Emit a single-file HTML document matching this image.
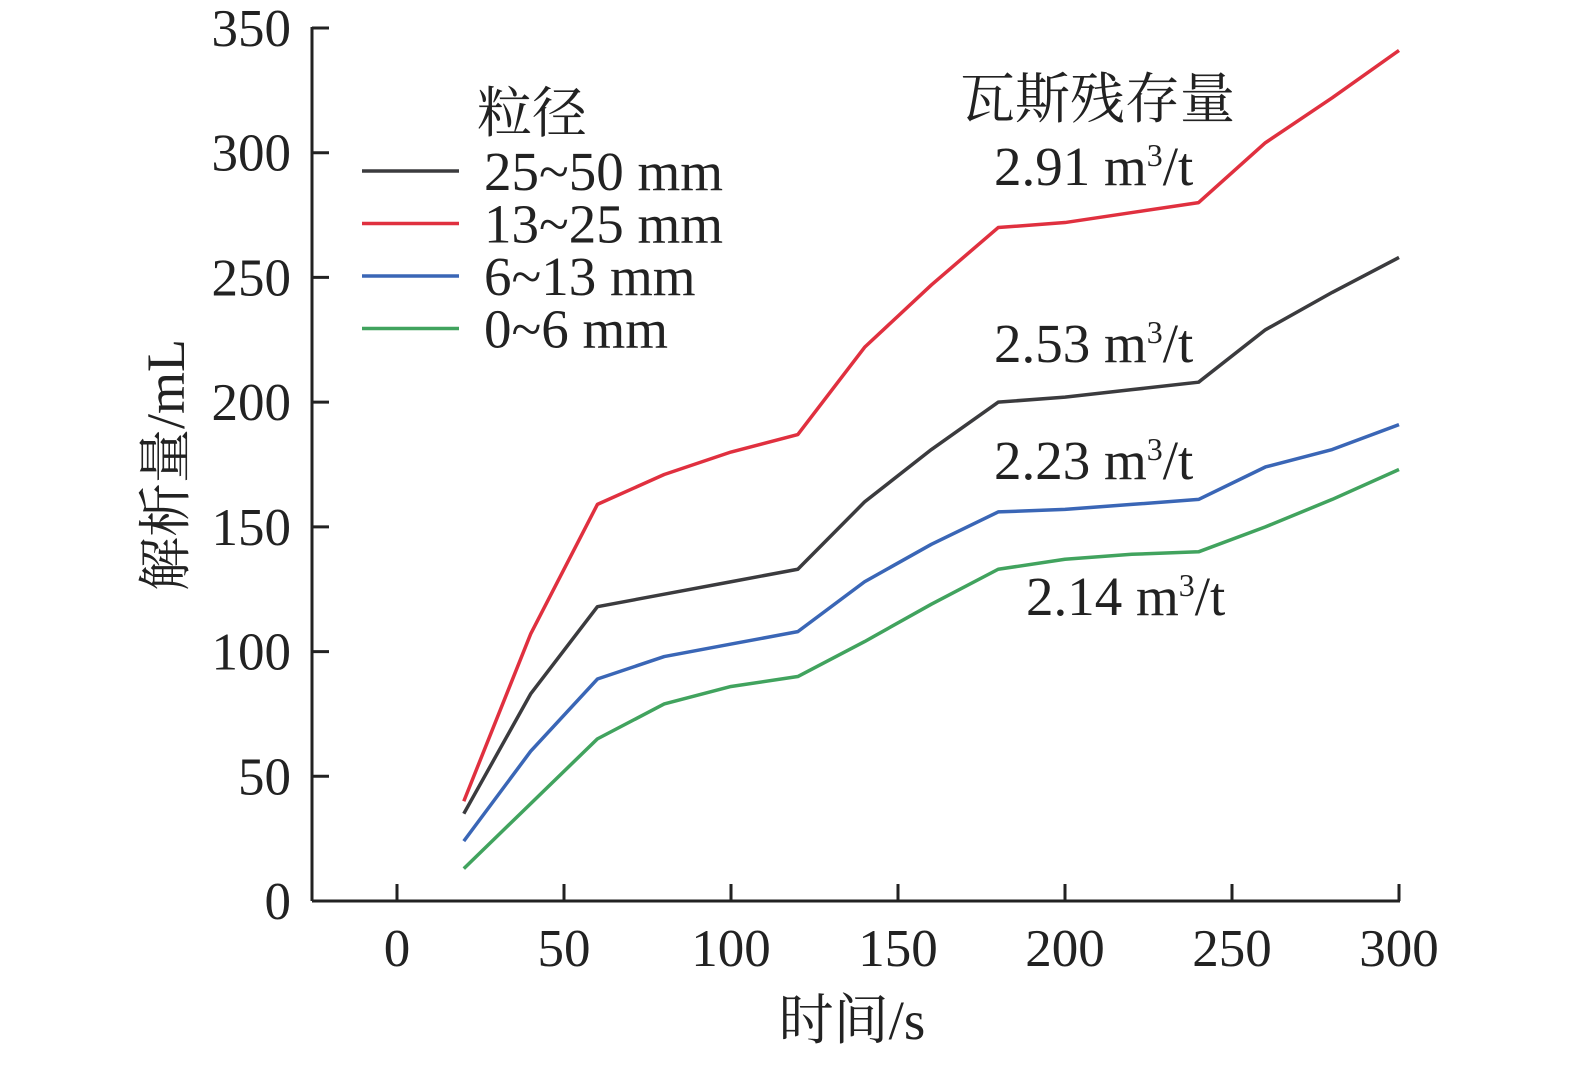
<!DOCTYPE html>
<html><head><meta charset="utf-8"><style>
body{margin:0;background:#fff}
svg text{font-family:"Liberation Serif","Noto Serif CJK SC","Noto Sans CJK SC",serif;fill:#222}
</style></head><body>
<svg width="1575" height="1061">
<g id="axes"></g><g id="series"></g>
<g>
<text x="477" y="132" font-size="55">粒径</text>
</g>
<text x="960" y="118" font-size="55">瓦斯残存量</text>
<text x="994" y="185" font-size="55">2.91 m<tspan dy="-19" font-size="32">3</tspan><tspan dy="19">/t</tspan></text>
<text x="994" y="362" font-size="55">2.53 m<tspan dy="-19" font-size="32">3</tspan><tspan dy="19">/t</tspan></text>
<text x="994" y="479" font-size="55">2.23 m<tspan dy="-19" font-size="32">3</tspan><tspan dy="19">/t</tspan></text>
<text x="1026" y="615" font-size="55">2.14 m<tspan dy="-19" font-size="32">3</tspan><tspan dy="19">/t</tspan></text>
<text x="852" y="1039" font-size="55" text-anchor="middle">时间/s</text>
<text transform="translate(184,465) rotate(-90)" font-size="54" text-anchor="middle">解析量/mL</text>
</svg>
<script>
const xs=[20,40,60,80,100,120,140,160,180,200,220,240,260,280,300];
const red=[40,107,159,171,180,187,222,247,270,272,276,280,304,322,341];
const black=[35,83,118,123,128,133,160,181,200,202,205,208,229,244,258];
const blue=[24,60,89,98,103,108,128,143,156,157,159,161,174,181,191];
const green=[13,39,65,79,86,90,104,119,133,137,139,140,150,161,173];
const xTicks=[0,50,100,150,200,250,300];
const yTicks=[0,50,100,150,200,250,300,350];
const legendLabels=["25~50 mm","13~25 mm","6~13 mm","0~6 mm"];
const X=v=>397+v*3.34, Y=v=>901-v*(901-28)/350;
const NS="http://www.w3.org/2000/svg";
function mk(t,a,p){const e=document.createElementNS(NS,t);for(const k in a)e.setAttribute(k,a[k]);p.appendChild(e);return e;}
const ax=document.getElementById('axes'), sg=document.getElementById('series'), svg=document.querySelector('svg');
let l=mk('line',{x1:312,y1:901,x2:X(300)+1,y2:901,stroke:'#222','stroke-width':3},ax);


l=mk('line',{x1:312,y1:901,x2:312,y2:27,stroke:'#222','stroke-width':3},ax);


xTicks.forEach(v=>{const t=mk('line',{x1:X(v),y1:901,x2:X(v),y2:884,stroke:'#222','stroke-width':3},ax);


const tx=mk('text',{x:X(v),y:966,'font-size':53,'text-anchor':'middle'},ax);tx.textContent=v;

});
yTicks.forEach(v=>{const t=mk('line',{x1:312,y1:Y(v),x2:329,y2:Y(v),stroke:'#222','stroke-width':3},ax);


const tx=mk('text',{x:291,y:Y(v)+18,'font-size':53,'text-anchor':'end'},ax);tx.textContent=v;

});
const series=[[black,'#3b3b3e','line-25-50'],[red,'#e0303f','line-13-25'],[blue,'#3a66b6','line-6-13'],[green,'#41a35e','line-0-6']];
series.forEach((s,i)=>{const p=mk('polyline',{points:xs.map((x,j)=>X(x)+','+Y(s[0][j])).join(' '),fill:'none',stroke:s[1],'stroke-width':3.5,'stroke-linejoin':'round'},sg);


const ly=171+i*52.5;
const ll=mk('line',{x1:362,y1:ly,x2:459,y2:ly,stroke:s[1],'stroke-width':3.5},svg);


const lt=mk('text',{x:484,y:ly+19,'font-size':55},svg);lt.textContent=legendLabels[i];

});
</script>
</body></html>
